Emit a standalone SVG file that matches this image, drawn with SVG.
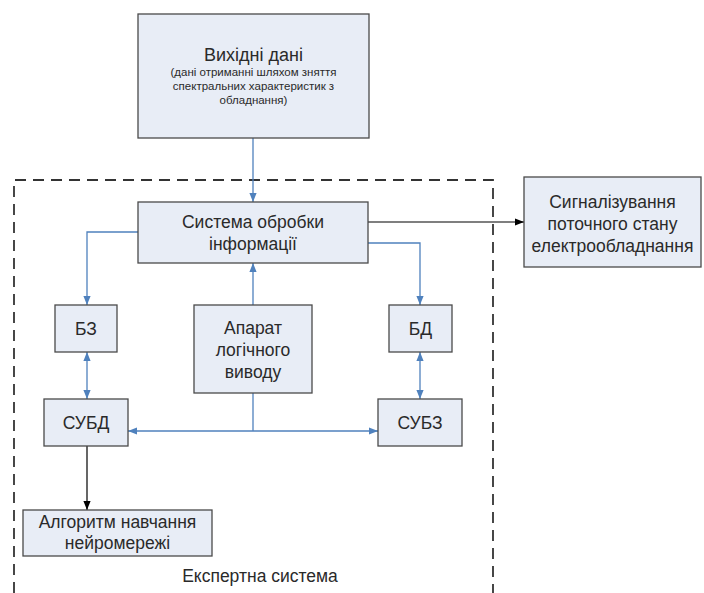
<svg xmlns="http://www.w3.org/2000/svg" width="704" height="593" viewBox="0 0 704 593">
<defs>
<marker id="ab" viewBox="0 0 10 10" refX="10" refY="5" markerWidth="9" markerHeight="9" markerUnits="userSpaceOnUse" orient="auto-start-reverse"><path d="M0,1 L10,5 L0,9 z" fill="#4f81bd"/></marker>
<marker id="ak" viewBox="0 0 10 10" refX="10" refY="5" markerWidth="9" markerHeight="9" markerUnits="userSpaceOnUse" orient="auto"><path d="M0,1 L10,5 L0,9 z" fill="#000"/></marker>
</defs>
<style>
.box{fill:#e8edf6;stroke:#4a4a4a;stroke-width:1.3}
.t{font-family:"Liberation Sans",Arial,sans-serif;font-size:17.5px;fill:#2a2a2a;text-anchor:middle}
.s{font-size:11.5px}
.big{font-size:18px}
.b{fill:none;stroke:#4f81bd;stroke-width:1.3}
.k{fill:none;stroke:#000;stroke-width:1.2}
</style>
<rect width="704" height="593" fill="#fff"/>
<path d="M14,593 L14,180 L493,180 L493,593" fill="none" stroke="#333" stroke-width="1.8" stroke-dasharray="11,7"/>
<g id="connectors">
<path class="b" d="M253,138 L253,202" marker-end="url(#ab)"/>
<path class="b" d="M138,232 L87,232 L87,305" marker-end="url(#ab)"/>
<path class="b" d="M368,243 L420,243 L420,305" marker-end="url(#ab)"/>
<path class="b" d="M253,305 L253,263" marker-end="url(#ab)"/>
<path class="b" d="M87,352 L87,399" marker-start="url(#ab)" marker-end="url(#ab)"/>
<path class="b" d="M420,352 L420,399" marker-start="url(#ab)" marker-end="url(#ab)"/>
<path class="b" d="M128,431 L378,431" marker-start="url(#ab)" marker-end="url(#ab)"/>
<path class="b" d="M253,393 L253,431"/>
<path class="k" d="M368,222 L524,222" marker-end="url(#ak)"/>
<path class="k" d="M87,446 L87,510" marker-end="url(#ak)"/>
</g>
<g id="vykhidni">
<rect class="box" x="138" y="14" width="231" height="124"/>
<text class="t big" x="253.5" y="61">Вихідні дані</text>
<text class="t s" x="253.5" y="76">(дані отриманні шляхом зняття</text>
<text class="t s" x="253.5" y="90">спектральних характеристик з</text>
<text class="t s" x="253.5" y="104">обладнання)</text>
</g>
<g id="systema">
<rect class="box" x="138" y="202" width="230" height="61"/>
<text class="t" x="253" y="228">Система обробки</text>
<text class="t" x="253" y="250">інформації</text>
</g>
<g id="syhnal">
<rect class="box" x="524" y="177" width="177" height="90"/>
<text class="t" x="612.5" y="208">Сигналізування</text>
<text class="t" x="612.5" y="230">поточного стану</text>
<text class="t" x="612.5" y="252">електрообладнання</text>
</g>
<g id="bz">
<rect class="box" x="55" y="305" width="62" height="47"/>
<text class="t" x="86" y="335">БЗ</text>
</g>
<g id="aparat">
<rect class="box" x="194" y="305" width="118" height="88"/>
<text class="t" x="253" y="334">Апарат</text>
<text class="t" x="253" y="356">логічного</text>
<text class="t" x="253" y="378">виводу</text>
</g>
<g id="bd">
<rect class="box" x="389" y="305" width="63" height="47"/>
<text class="t" x="420.5" y="335">БД</text>
</g>
<g id="subd">
<rect class="box" x="44" y="399" width="84" height="47"/>
<text class="t" x="86" y="429">СУБД</text>
</g>
<g id="subz">
<rect class="box" x="378" y="399" width="84" height="47"/>
<text class="t" x="420" y="429">СУБЗ</text>
</g>
<g id="alhorytm">
<rect class="box" x="23" y="510" width="189" height="46"/>
<text class="t" x="117.5" y="528">Алгоритм навчання</text>
<text class="t" x="117.5" y="549">нейромережі</text>
</g>
<text class="t" x="260" y="582">Експертна система</text>
</svg>
